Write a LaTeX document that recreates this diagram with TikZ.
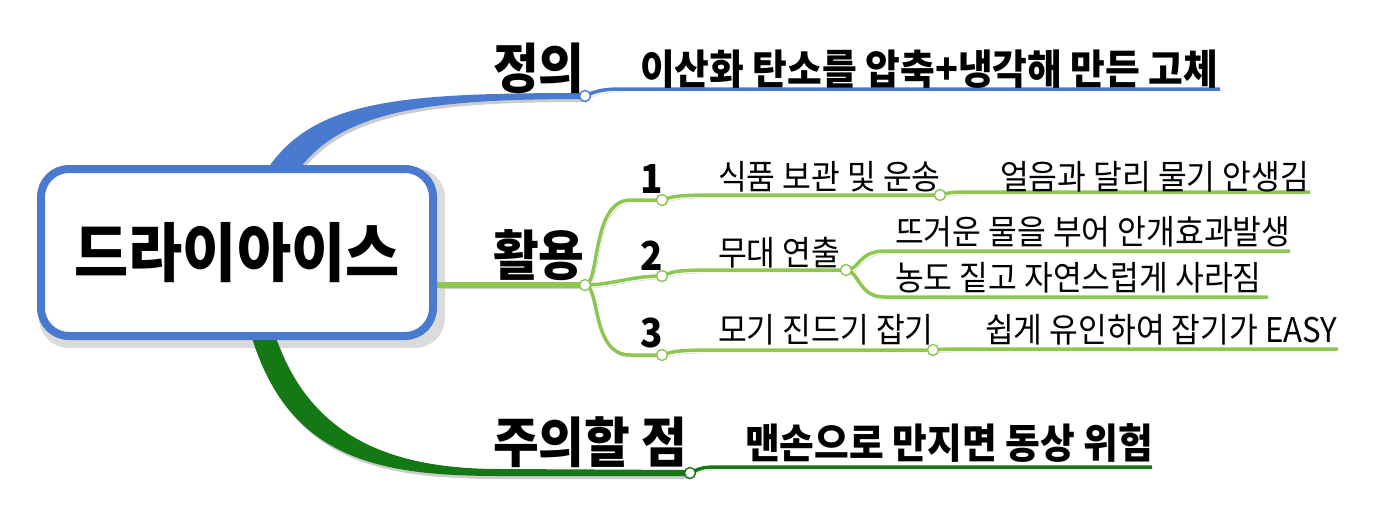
\documentclass[tikz,border=0pt]{standalone}
\usepackage{fontspec}
\setmainfont{Noto Sans CJK KR}[FakeStretch=0.92]
\usetikzlibrary{calc}
\newcommand\fsz[1]{\fontsize{#1pt}{#1pt}\selectfont}
\definecolor{cblue}{RGB}{74,122,208}
\definecolor{lgreen}{RGB}{141,198,80}
\definecolor{dgreen}{RGB}{20,120,20}
\pgfdeclarelayer{bg}
\pgfsetlayers{bg,main}
\begin{document}
\begin{tikzpicture}[x=1pt,y=-1pt,
  dot/.style={circle,draw=#1,fill=white,line width=1.4pt,inner sep=0pt,minimum size=11pt},
  shad/.style={preaction={draw=gray!40,transform canvas={xshift=2pt,yshift=-3pt}}},
  fshad/.style={preaction={fill=gray!40,transform canvas={xshift=2pt,yshift=-3pt}}},
  lbl/.style={anchor=base west,inner sep=0pt,font=\fsz{#1}},
  blbl/.style={anchor=base west,inner sep=0pt,font=\fsz{#1}\bfseries},
  line cap=round]
\useasboundingbox (0,0) rectangle (1383,506);

% central box
\node[draw=cblue,line width=8pt,rounded corners=28pt,fill=white,
      minimum width=392pt,minimum height=167pt] (root) at (237,252.5)
      {\fsz{64}\bfseries 드라이아이스};

% coordinates of the joints
\coordinate (P1) at (585,96);
\coordinate (P2) at (585,285);
\coordinate (P3) at (690,473);
\coordinate (Q1) at (662,200);
\coordinate (Q2) at (662,276);
\coordinate (Q3) at (662,355);
\coordinate (R1) at (940,195);
\coordinate (R2) at (846,270);
\coordinate (R3) at (933,350);
\coordinate (E0) at (1220,89);
\coordinate (E1) at (1310,192);
\coordinate (E2a) at (1290,251);
\coordinate (E2b) at (1268,297);
\coordinate (E3) at (1338,349);
\coordinate (E4) at (1152,467);

\begin{pgfonlayer}{bg}
  % box shadow
  \fill[gray!28,rounded corners=30pt] ([xshift=2pt,yshift=-8pt]root.south west) rectangle ([xshift=8pt,yshift=-3pt]root.north east);
  % blue branch
  \fill[cblue,fshad] (268,168) .. controls (315,100) and (400,93) .. (585,93)
     -- (585,99) .. controls (430,99) and (345,110) .. (300,168) -- cycle;
  \draw[cblue,line width=3.5pt,shad] (P1) .. controls (598,90) and (605,89) .. (625,89) -- (E0);
  % light green branch
  \draw[lgreen,line width=6pt,shad] ([yshift=-32.5pt]root.east) -- (P2);
  \draw[lgreen,line width=3.5pt,shad] (P2) .. controls (600,285) and (591,201) .. (630,200) -- (Q1);
  \draw[lgreen,line width=3.5pt,shad] (P2) .. controls (612,285) and (630,276) .. (Q2);
  \draw[lgreen,line width=3.5pt,shad] (P2) .. controls (600,285) and (591,355) .. (630,355) -- (Q3);
  \draw[lgreen,line width=3.5pt,shad] (Q1) .. controls (675,196) .. (700,195) -- (R1);
  \draw[lgreen,line width=3.5pt,shad] (R1) .. controls (952,192) .. (975,192) -- (E1);
  \draw[lgreen,line width=3.5pt,shad] (Q2) .. controls (675,271) .. (700,270) -- (R2);
  \draw[lgreen,line width=3.5pt,shad] (R2) .. controls (860,270) and (858,251) .. (885,251) -- (E2a);
  \draw[lgreen,line width=3.5pt,shad] (R2) .. controls (860,272) and (858,297) .. (885,297) -- (E2b);
  \draw[lgreen,line width=3.5pt,shad] (Q3) .. controls (675,351) .. (700,350) -- (R3);
  \draw[lgreen,line width=3.5pt,shad] (R3) .. controls (945,349) .. (965,349) -- (E3);
  % dark green branch
  \fill[dgreen,fshad] (252,338) .. controls (290,460) and (380,476) .. (500,476) -- (690,476)
     -- (690,470) -- (500,469) .. controls (395,469) and (312,440) .. (276,338) -- cycle;
  \draw[dgreen,line width=3.5pt,shad] (P3) .. controls (703,467) .. (725,467) -- (E4);
\end{pgfonlayer}

% joint dots
\node[dot=cblue] (d1) at (P1) {};
\node[dot=lgreen] (d2) at (P2) {};
\node[dot=dgreen] (d3) at (P3) {};
\node[dot=lgreen] (q1) at (Q1) {};
\node[dot=lgreen] (q2) at (Q2) {};
\node[dot=lgreen] (q3) at (Q3) {};
\node[dot=lgreen] (r1) at (R1) {};
\node[dot=lgreen] (r2) at (R2) {};
\node[dot=lgreen] (r3) at (R3) {};

% labels
\node[blbl=54] (t1) at (493,88) {정의};
\node[blbl=41] (t1a) at (640,84) {이산화 탄소를 압축+냉각해 만든 고체};
\node[blbl=54] (t2) at (493,275) {활용};
\node[blbl=40] (n1) at (640,193) {1};
\node[lbl=34] (t21) at (718,189) {식품 보관 및 운송};
\node[lbl=34] (t21a) at (1000,189) {얼음과 달리 물기 안생김};
\node[blbl=40] (n2) at (640,270) {2};
\node[lbl=34] (t22) at (718,265) {무대 연출};
\node[lbl=34] (t22a) at (895,244) {뜨거운 물을 부어 안개효과발생};
\node[lbl=34] (t22b) at (895,290) {농도 짙고 자연스럽게 사라짐};
\node[blbl=40] (n3) at (640,347) {3};
\node[lbl=34] (t23) at (718,342) {모기 진드기 잡기};
\node[lbl=34] (t23a) at (985,342) {쉽게 유인하여 잡기가 EASY};
\node[blbl=54] (t3) at (493,462) {주의할 점};
\node[blbl=41] (t3a) at (745,458) {맨손으로 만지면 동상 위험};
\end{tikzpicture}
\end{document}
